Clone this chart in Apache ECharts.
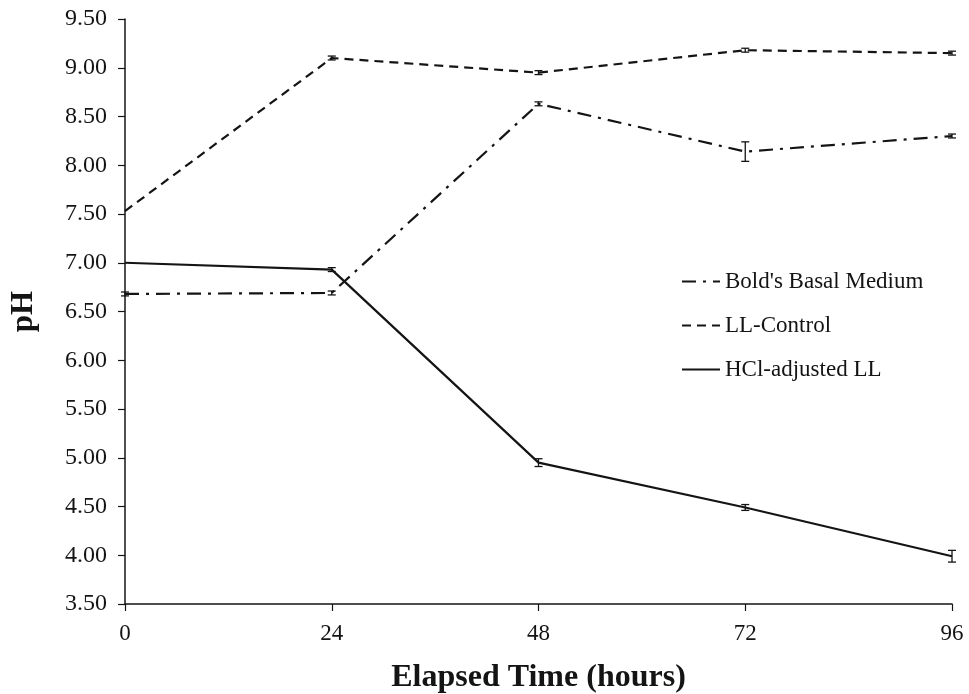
<!DOCTYPE html>
<html><head><meta charset="utf-8">
<script src="https://cdn.jsdelivr.net/npm/echarts@6/dist/echarts.min.js"></script>
<style>html,body{margin:0;padding:0;background:#fff}#c{width:969px;height:694px}</style>
</head><body><div id="c"></div>
<script>
const hours = [0, 24, 48, 72, 96];
const boldsBasal = [6.68, 6.69, 8.63, 8.14, 8.30];
const boldsErr = [0.02, 0.02, 0.02, 0.10, 0.02];
const llControl = [7.53, 9.10, 8.95, 9.18, 9.15];
const llErr = [0.00, 0.02, 0.02, 0.02, 0.02];
const hclLL = [7.00, 6.93, 4.95, 4.49, 3.99];
const hclErr = [0.00, 0.02, 0.04, 0.03, 0.06];
const yTicks = [3.5, 9.5, 0.5];

const font = 'Liberation Serif, Times New Roman, serif';
const ink = '#141414';

function pairs(vals){ return hours.map((h,i)=>[h, vals[i]]); }
function errData(vals, errs){ return hours.map((h,i)=>[h, vals[i]-errs[i], vals[i]+errs[i]]).filter((d,i)=>errs[i]>0); }
function errSeries(vals, errs){
  return {
    type: 'custom',
    silent: true,
    data: errData(vals, errs),
    renderItem: function(params, api){
      const lo = api.coord([api.value(0), api.value(1)]);
      const hi = api.coord([api.value(0), api.value(2)]);
      const w = 4;
      const st = {stroke: ink, lineWidth: 1.3};
      return {type:'group', children:[
        {type:'line', shape:{x1:lo[0], y1:lo[1], x2:hi[0], y2:hi[1]}, style:st},
        {type:'line', shape:{x1:lo[0]-w, y1:lo[1], x2:lo[0]+w, y2:lo[1]}, style:st},
        {type:'line', shape:{x1:hi[0]-w, y1:hi[1], x2:hi[0]+w, y2:hi[1]}, style:st}
      ]};
    },
    z: 3
  };
}

const chart = echarts.init(document.getElementById('c'));
chart.setOption({
  animation: false,
  backgroundColor: '#fff',
  grid: {left: 125, right: 17, top: 19, bottom: 90, outerBoundsMode: 'none', containLabel: false},
  legend: {
    orient: 'vertical',
    left: 676, top: 265,
    itemGap: 21,
    itemWidth: 38, itemHeight: 14,
    itemStyle: {opacity: 0},
    textStyle: {fontFamily: font, fontSize: 23, color: ink},
    data: ["Bold's Basal Medium", 'LL-Control', 'HCl-adjusted LL']
  },
  xAxis: {
    type: 'value', min: 0, max: 96, interval: 24,
    name: 'Elapsed Time (hours)', nameLocation: 'middle', nameGap: 58,
    nameTextStyle: {fontFamily: font, fontSize: 32, fontWeight: 'bold', color: ink},
    axisLine: {lineStyle: {color: ink, width: 1.5}},
    axisTick: {length: 7, lineStyle: {color: ink, width: 1.2}},
    axisLabel: {fontFamily: font, fontSize: 23, color: ink, margin: 18},
    splitLine: {show: false}
  },
  yAxis: {
    type: 'value', min: yTicks[0], max: yTicks[1], interval: yTicks[2],
    name: 'pH', nameLocation: 'middle', nameGap: 86, nameRotate: 90,
    nameTextStyle: {fontFamily: font, fontSize: 31, fontWeight: 'bold', color: ink},
    axisLine: {show: true, lineStyle: {color: ink, width: 1.5}},
    axisTick: {show: true, length: 7, lineStyle: {color: ink, width: 1.2}},
    axisLabel: {fontFamily: font, fontSize: 24, color: ink, margin: 18, formatter: v => v.toFixed(2)},
    splitLine: {show: false}
  },
  series: [
    {name: "Bold's Basal Medium", type: 'line', data: pairs(boldsBasal), showSymbol: false, symbol: 'none',
     lineStyle: {color: ink, width: 2.2, type: [14, 7, 3, 7]}, itemStyle: {color: ink}},
    {name: 'LL-Control', type: 'line', data: pairs(llControl), showSymbol: false, symbol: 'none',
     lineStyle: {color: ink, width: 2.2, type: [9, 6]}, itemStyle: {color: ink}},
    {name: 'HCl-adjusted LL', type: 'line', data: pairs(hclLL), showSymbol: false, symbol: 'none',
     lineStyle: {color: ink, width: 2.2, type: 'solid'}, itemStyle: {color: ink}},
    errSeries(boldsBasal, boldsErr),
    errSeries(llControl, llErr),
    errSeries(hclLL, hclErr)
  ]
});
</script></body></html>
